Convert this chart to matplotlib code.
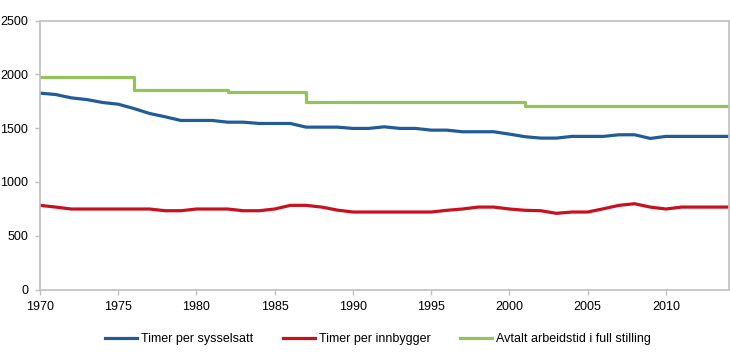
import matplotlib
matplotlib.use("Agg")
import matplotlib.pyplot as plt

plt.rcParams['font.family'] = ['Liberation Sans', 'DejaVu Sans']

years = list(range(1970, 2015))

timer_per_sysselsatt = [
    1825, 1812, 1781, 1765, 1738, 1722, 1682, 1636, 1605, 1571,
    1571, 1571, 1555, 1555, 1543, 1543, 1543, 1509, 1509, 1509,
    1497, 1497, 1512, 1497, 1497, 1481, 1481, 1466, 1466, 1466,
    1444, 1420, 1407, 1407, 1423, 1423, 1423, 1438, 1438, 1404,
    1423, 1423, 1423, 1423, 1423,
]

timer_per_innbygger = [
    782, 766, 748, 748, 748, 748, 748, 748, 732, 732,
    748, 748, 748, 732, 732, 748, 782, 782, 766, 738,
    720, 720, 720, 720, 720, 720, 736, 748, 766, 766,
    748, 736, 732, 708, 720, 720, 750, 782, 797, 766,
    748, 766, 766, 766, 766,
]

avtalt_arbeidstid = (
    [1975] * 6 +      # 1970-1975
    [1855] * 6 +      # 1976-1981
    [1840] * 5 +      # 1982-1986
    [1740] * 14 +     # 1987-2000
    [1705] * 14       # 2001-2014
)

labels = ["Timer per sysselsatt", "Timer per innbygger",
          "Avtalt arbeidstid i full stilling"]
colors = ["#215C98", "#C8101E", "#92C45B"]

fig = plt.figure(figsize=(7.30, 3.63), dpi=100)
ax = fig.add_axes([40 / 730, 1 - 289.5 / 363, 688.5 / 730, (289.5 - 20.5) / 363])

ax.plot(years, timer_per_sysselsatt, color=colors[0], lw=2.3, label=labels[0],
        solid_joinstyle='round')
ax.plot(years, timer_per_innbygger, color=colors[1], lw=2.3, label=labels[1],
        solid_joinstyle='round')
ax.plot(years, avtalt_arbeidstid, color=colors[2], lw=2.3, label=labels[2],
        drawstyle='steps-post')

ax.set_xlim(1970, 2014)
ax.set_ylim(0, 2500)
ax.set_xticks(range(1970, 2011, 5))
ax.set_yticks(range(0, 2501, 500))

for s in ax.spines.values():
    s.set_color('#BFBFBF')
    s.set_linewidth(1.2)

ax.tick_params(axis='x', colors='#BFBFBF', labelcolor='black', length=3.5,
               width=1, pad=5, labelsize=9)
ax.tick_params(axis='y', colors='#BFBFBF', labelcolor='black', length=3.5,
               width=1, pad=5, labelsize=9)

fig.legend(loc='center', bbox_to_anchor=(378 / 730, 1 - 339 / 363), ncol=3,
           frameon=False, fontsize=9, handlelength=2.55, handletextpad=0.3,
           columnspacing=2.4)

fig.savefig("out.png", dpi=100)
